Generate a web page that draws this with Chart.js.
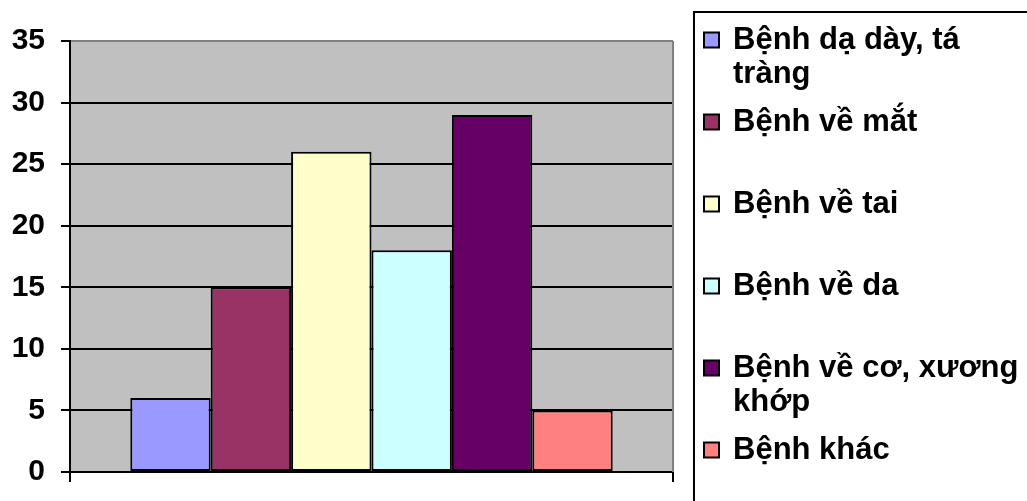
<!DOCTYPE html>
<html>
<head>
<meta charset="utf-8">
<script src="https://cdn.jsdelivr.net/npm/chart.js@4"></script>
<style>
  html, body { margin: 0; padding: 0; background: #fff; }
  #wrap { width: 1027px; height: 501px; }
</style>
</head>
<body>
<div id="wrap"><canvas id="c" width="1027" height="501"></canvas></div>
<script>
// Data
const categories = [''];
const seriesNames = ['Bệnh dạ dày, tá tràng', 'Bệnh về mắt', 'Bệnh về tai', 'Bệnh về da', 'Bệnh về cơ, xương khớp', 'Bệnh khác'];
const seriesValues = [6, 15, 26, 18, 29, 5];
const seriesColors = ['#9999FF', '#993366', '#FFFFCC', '#CCFFFF', '#660066', '#FF8080'];
const yTickValues = [0, 5, 10, 15, 20, 25, 30, 35];

const FONT_FAMILY = '"Liberation Sans", Arial, sans-serif';
const TICK_FONT_SIZE = 30;
const LEGEND_FONT_SIZE = 31;

// Grey plot area with a grey frame on the right
const plotArea = {
  id: 'plotArea',
  beforeDraw(chart) {
    const { ctx, chartArea: a } = chart;
    ctx.save();
    ctx.fillStyle = '#C0C0C0';
    ctx.fillRect(a.left, a.top, a.right - a.left, a.bottom - a.top);
    ctx.restore();
  },
  afterDatasetsDraw(chart) {
    const { ctx, chartArea: a } = chart;
    ctx.save();
    ctx.strokeStyle = '#808080';
    ctx.lineWidth = 2;
    ctx.beginPath();
    ctx.moveTo(a.right, a.top);
    ctx.lineTo(a.right, a.bottom);
    ctx.stroke();
    ctx.restore();
  }
};

// Boxed legend on the right with wrapped labels
const sideLegend = {
  id: 'sideLegend',
  afterDraw(chart) {
    const { ctx } = chart;
    const boxLeft = 694, boxTop = 12;
    const textX = 733, maxW = 292;
    const firstY = 40, step = 82, lineH = 34, sw = 15;
    ctx.save();
    ctx.strokeStyle = '#000';
    ctx.lineWidth = 2;
    ctx.beginPath();
    ctx.moveTo(boxLeft, chart.height);
    ctx.lineTo(boxLeft, boxTop);
    ctx.lineTo(chart.width, boxTop);
    ctx.stroke();

    ctx.font = 'bold ' + LEGEND_FONT_SIZE + 'px ' + FONT_FAMILY;
    ctx.textBaseline = 'middle';
    ctx.textAlign = 'left';
    chart.data.datasets.forEach((ds, i) => {
      const words = ds.label.split(' ');
      const lines = [];
      let cur = '';
      words.forEach(w => {
        const t = cur ? cur + ' ' + w : w;
        if (cur && ctx.measureText(t).width > maxW) { lines.push(cur); cur = w; }
        else cur = t;
      });
      if (cur) lines.push(cur);
      const y = firstY + i * step;
      ctx.fillStyle = ds.backgroundColor;
      ctx.fillRect(704, y - sw / 2, sw, sw);
      ctx.lineWidth = 2;
      ctx.strokeStyle = '#000';
      ctx.strokeRect(704, y - sw / 2, sw, sw);
      ctx.fillStyle = '#000';
      lines.forEach((ln, j) => ctx.fillText(ln, textX, y + j * lineH));
    });
    ctx.restore();
  }
};

new Chart(document.getElementById('c'), {
  type: 'bar',
  data: {
    labels: categories,
    datasets: seriesNames.map((name, i) => ({
      label: name,
      data: [seriesValues[i]],
      backgroundColor: seriesColors[i],
      borderColor: '#000',
      borderWidth: 2,
      borderSkipped: false,
      barPercentage: 1,
      categoryPercentage: 0.8
    }))
  },
  options: {
    responsive: false,
    devicePixelRatio: 1,
    animation: false,
    layout: { padding: { left: 0, top: 41, right: 354, bottom: 0 } },
    plugins: { legend: { display: false }, tooltip: { enabled: false } },
    scales: {
      x: {
        grid: {
          drawOnChartArea: false,
          drawTicks: true,
          tickLength: 10,
          tickColor: '#000',
          lineWidth: 2,
          offset: true
        },
        border: { display: true, color: '#000', width: 2 },
        ticks: { display: false },
        afterFit(s) { s.height = 29; }
      },
      y: {
        min: 0,
        max: 35,
        afterBuildTicks(s) { s.ticks = yTickValues.map(v => ({ value: v })); },
        grid: {
          color: c => (c.tick && c.tick.value === 35 ? '#808080' : '#000'),
          lineWidth: 2,
          tickColor: '#000',
          tickLength: 9
        },
        border: { display: true, color: '#000', width: 2 },
        ticks: {
          color: '#000',
          padding: 16,
          font: { family: FONT_FAMILY, size: TICK_FONT_SIZE, weight: 'bold' }
        },
        afterFit(s) {
          s.width = 70;
          // the end labels may overhang the plot; keep the plot edges fixed
          s.paddingTop = 0;
          s.paddingBottom = 0;
        }
      }
    }
  },
  plugins: [plotArea, sideLegend]
});
</script>
</body>
</html>
